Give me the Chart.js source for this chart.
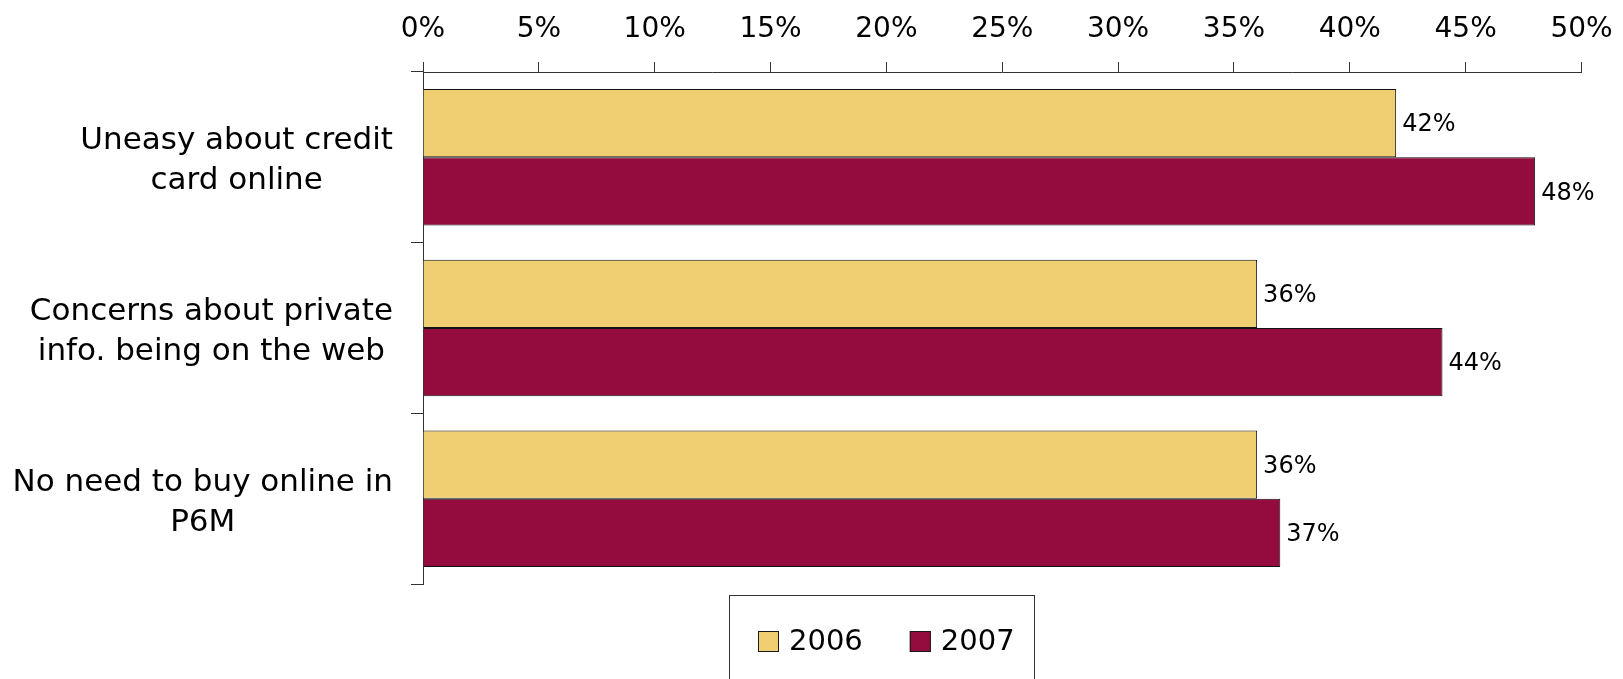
<!DOCTYPE html>
<html>
<head>
<meta charset="utf-8">
<title>Reasons for not buying online, 2006 vs 2007</title>
<script src="https://cdn.jsdelivr.net/npm/chart.js@4/dist/chart.umd.min.js"></script>
<style>
  html, body { margin: 0; padding: 0; background: #ffffff; }
  #wrap { width: 1623px; height: 679px; }
</style>
</head>
<body>
<div id="wrap"><canvas id="chart" width="1623" height="679"></canvas></div>
<script>
// Survey reasons (each label split into its display lines)
const categories = [
  ["Uneasy about credit", "card online"],
  ["Concerns about private", "info. being on the web"],
  ["No need to buy online in", "P6M"]
];
const seriesNames = ["2006", "2007"];
const values2006 = [42, 36, 36];
const values2007 = [48, 44, 37];
const axisTicks = [0, 5, 10, 15, 20, 25, 30, 35, 40, 45, 50];

const FONT = "'DejaVu Sans', Verdana, sans-serif";
const INK = "#000000";
const LINE = "#333333";
const YELLOW = "#F0CF73";
const MAROON = "#930C3D";

// Category labels: each block right-aligned to the axis, lines centred within the block
const categoryLabels = {
  id: "categoryLabels",
  afterDraw(chart) {
    const ctx = chart.ctx;
    const y = chart.scales.y;
    const rightEdge = 393;
    const lineGap = 40;
    ctx.save();
    ctx.font = "31px " + FONT;
    ctx.fillStyle = INK;
    ctx.textAlign = "center";
    ctx.textBaseline = "middle";
    categories.forEach((lines, i) => {
      const cy = y.getPixelForValue(i) + 4;
      const blockW = Math.max(...lines.map(l => ctx.measureText(l).width));
      const cx = rightEdge - blockW / 2;
      lines.forEach((line, j) => {
        ctx.fillText(line, cx, cy + (j - (lines.length - 1) / 2) * lineGap);
      });
    });
    ctx.restore();
  }
};

// Value labels just past the end of each bar
const valueLabels = {
  id: "valueLabels",
  afterDatasetsDraw(chart) {
    const ctx = chart.ctx;
    ctx.save();
    ctx.font = "24px " + FONT;
    ctx.fillStyle = INK;
    ctx.textAlign = "left";
    ctx.textBaseline = "middle";
    chart.data.datasets.forEach((ds, di) => {
      chart.getDatasetMeta(di).data.forEach((bar, i) => {
        ctx.fillText(ds.data[i] + "%", bar.x + 6, bar.y + 2);
      });
    });
    ctx.restore();
  }
};

// Boxed legend under the plot
const boxedLegend = {
  id: "boxedLegend",
  afterDraw(chart) {
    const ctx = chart.ctx;
    const centerX = 886;
    const midY = 641.5;
    const box = 21;
    const boxToText = 10;
    const itemGap = 47;
    ctx.save();
    ctx.font = "29px " + FONT;
    const items = chart.data.datasets.map(ds => ({
      text: ds.label, fill: ds.backgroundColor, w: ctx.measureText(ds.label).width
    }));
    const total = items.reduce((s, it) => s + box + boxToText + it.w, 0) + itemGap * (items.length - 1);
    let x = Math.round(centerX - total / 2);
    // frame
    ctx.strokeStyle = LINE;
    ctx.lineWidth = 1;
    ctx.strokeRect(729.5, 595.5, 305, 120);
    ctx.textAlign = "left";
    ctx.textBaseline = "middle";
    items.forEach(it => {
      ctx.fillStyle = it.fill;
      ctx.fillRect(x, midY - box / 2, box, box);
      ctx.strokeStyle = "#1a1a1a";
      ctx.strokeRect(x + 0.5, midY - box / 2 + 0.5, box - 1, box - 1);
      ctx.fillStyle = INK;
      ctx.fillText(it.text, x + box + boxToText, midY + 1);
      x += box + boxToText + it.w + itemGap;
    });
    ctx.restore();
  }
};

new Chart(document.getElementById("chart"), {
  type: "bar",
  data: {
    labels: categories,
    datasets: [
      { label: seriesNames[0], data: values2006, backgroundColor: YELLOW, borderColor: "#111111", borderWidth: 1 },
      { label: seriesNames[1], data: values2007, backgroundColor: MAROON, borderColor: "#111111", borderWidth: 1 }
    ]
  },
  options: {
    indexAxis: "y",
    responsive: false,
    animation: false,
    devicePixelRatio: 1,
    layout: { padding: { top: 0, right: 41.5, bottom: 95, left: 0 } },
    datasets: { bar: { categoryPercentage: 0.8, barPercentage: 1.0 } },
    plugins: { legend: { display: false }, tooltip: { enabled: false } },
    scales: {
      x: {
        type: "linear",
        position: "top",
        min: axisTicks[0],
        max: axisTicks[axisTicks.length - 1],
        afterBuildTicks(scale) { scale.ticks = axisTicks.map(v => ({ value: v })); },
        afterFit(scale) {
          scale.height = 72;
          scale.paddingLeft = 0;
          scale.paddingRight = 0;
        },
        ticks: {
          padding: 15,
          color: INK,
          font: { family: FONT, size: 28 },
          callback: v => v + "%",
          maxRotation: 0
        },
        grid: { drawOnChartArea: false, drawTicks: true, tickLength: 10, color: LINE, lineWidth: 1 },
        border: { display: true, color: LINE, width: 1 }
      },
      y: {
        type: "category",
        position: "left",
        ticks: { display: false },
        grid: { offset: true, drawOnChartArea: false, drawTicks: true, tickLength: 12, color: LINE, lineWidth: 1 },
        border: { display: true, color: LINE, width: 1 },
        afterFit(scale) { scale.width = 423; }
      }
    }
  },
  plugins: [categoryLabels, valueLabels, boxedLegend]
});
</script>
</body>
</html>
